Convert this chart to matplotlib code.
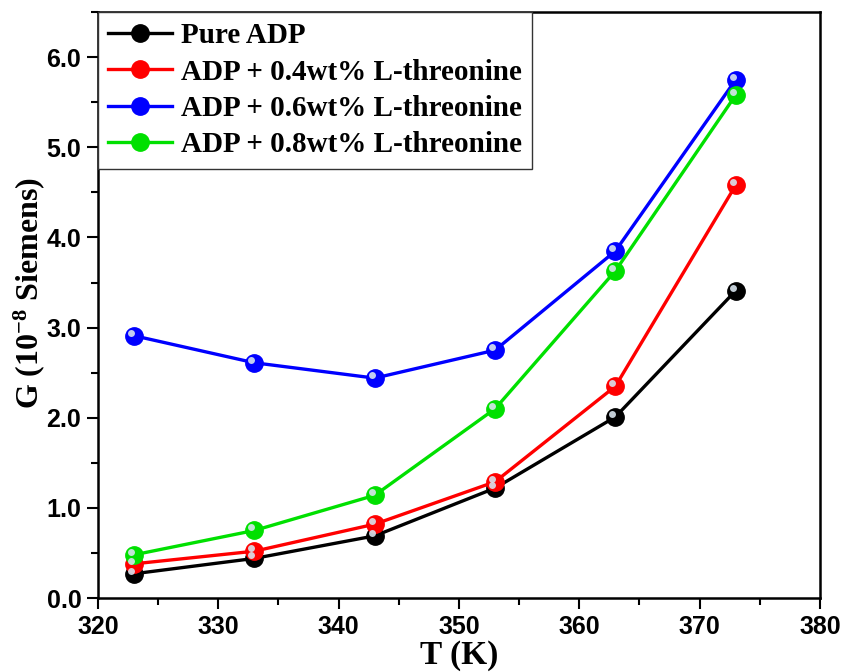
import matplotlib
matplotlib.use("Agg")
import matplotlib.pyplot as plt
import matplotlib.transforms as mtransforms
from matplotlib.lines import Line2D
from matplotlib.ticker import MultipleLocator, FormatStrFormatter

plt.rcParams["mathtext.fontset"] = "custom"
plt.rcParams["mathtext.rm"] = "Liberation Serif:bold"
plt.rcParams["mathtext.bf"] = "Liberation Serif:bold"
plt.rcParams["mathtext.default"] = "bf"

T = [323, 333, 343, 353, 363, 373]
pure = [0.27, 0.44, 0.69, 1.22, 2.01, 3.41]
thr04 = [0.38, 0.52, 0.82, 1.29, 2.35, 4.58]
thr06 = [2.91, 2.61, 2.44, 2.75, 3.85, 5.75]
thr08 = [0.48, 0.75, 1.14, 2.10, 3.63, 5.58]
labels = ["Pure ADP", "ADP + 0.4wt% L-threonine", "ADP + 0.6wt% L-threonine", "ADP + 0.8wt% L-threonine"]
colors = ["#000000", "#ff0000", "#0000ff", "#00e000"]
series = [pure, thr04, thr06, thr08]

fig = plt.figure(figsize=(8.41, 6.72), dpi=100)
ax = fig.add_axes([0.1165, 0.110, 0.8585, 0.872])

hl_off = mtransforms.ScaledTranslation(-3.0 / 100, 3.0 / 100, fig.dpi_scale_trans)
for ys, c in zip(series, colors):
    ax.plot(T, ys, color=c, lw=2.4, marker="o", ms=12.5, mfc=c, mec=c, zorder=3)
for ys, c in zip(series, colors):
    ax.plot(T, ys, ls="none", marker="o", ms=5, mfc="#d8e4ee", mec="none",
            alpha=0.9, transform=ax.transData + hl_off, zorder=4)

ax.set_xlim(320, 380)
ax.set_ylim(0, 6.5)
ax.xaxis.set_major_locator(MultipleLocator(10))
ax.xaxis.set_minor_locator(MultipleLocator(5))
ax.yaxis.set_major_locator(MultipleLocator(1))
ax.yaxis.set_minor_locator(MultipleLocator(0.5))
ax.yaxis.set_major_formatter(FormatStrFormatter("%.1f"))
ax.tick_params(which="both", direction="out", width=1.5, colors="black")
ax.tick_params(which="major", length=8, labelsize=18, pad=4)
ax.tick_params(which="minor", length=5)
for lab in ax.get_xticklabels() + ax.get_yticklabels():
    lab.set_fontfamily("Liberation Sans")
    lab.set_fontweight("bold")
for sp in ax.spines.values():
    sp.set_linewidth(1.8)

ax.set_xlabel("T (K)", fontfamily="Liberation Serif", fontweight="bold", fontsize=24)
ax.xaxis.set_label_coords(0.5, -0.072, transform=ax.transAxes)
ax.xaxis.label.set_va("top")
ax.set_ylabel("G (10$^{\\mathrm{-}8}$ Siemens)", fontfamily="Liberation Serif", fontweight="bold",
              fontsize=23)
ax.yaxis.set_label_coords(-0.07, 0.52)

handles = [Line2D([0], [0], color=c, lw=2.4, marker="o", ms=12.5, mfc=c, mec=c) for c in colors]
leg = ax.legend(handles, labels, loc="upper left", bbox_to_anchor=(0, 1), borderaxespad=0,
                prop={"family": "Liberation Serif", "weight": "bold", "size": 21},
                frameon=True, fancybox=False, edgecolor="#333333", framealpha=1,
                handlelength=2.2, handletextpad=0.3, labelspacing=0.32, borderpad=0.35)
leg.get_frame().set_linewidth(1.0)

fig.savefig("out.png", dpi=100)
